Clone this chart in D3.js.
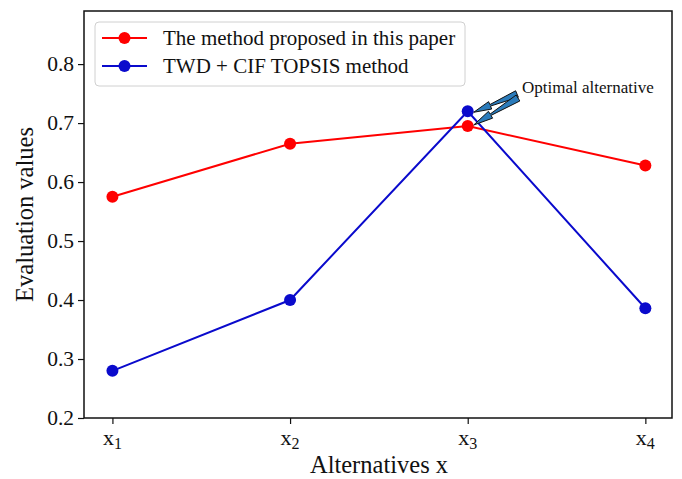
<!DOCTYPE html>
<meta charset="utf-8">
<html>
<head>
  <title>Evaluation values</title>
  <script src="https://d3js.org/d3.v7.min.js"></script>
</head>
<style>
  body { margin: 0; background: #fff; }
  svg { display: block; }
  svg text { font-family: 'Liberation Serif', 'Times New Roman', serif; }
</style>
<body>
<script>
  // data
  var alternatives = [1, 2, 3, 4];
  var tickNames = ["1", "2", "3", "4"];
  var proposed = [0.575, 0.665, 0.695, 0.628];
  var topsis = [0.280, 0.400, 0.720, 0.386];
  var yTicks = [0.2, 0.3, 0.4, 0.5, 0.6, 0.7, 0.8];
  var seriesNames = ["The method proposed in this paper", "TWD + CIF TOPSIS method"];

  var W = 682, H = 479;
  var pLeft = 84, pRight = 672, pTop = 11, pBottom = 418;
  var serif = "'Liberation Serif', 'Times New Roman', serif";

  var svg = d3.select("body").append("svg")
      .attr("width", W)
      .attr("height", H);

  var x = d3.scaleLinear().domain([0.84, 4.15]).range([pLeft, pRight]);
  var y = d3.scaleLinear().domain([0.2, 0.89]).range([pBottom, pTop]);

  //axes
  var yAxis = svg.append("g")
      .attr("transform", "translate(" + pLeft + ",0)")
      .call(d3.axisLeft(y).tickValues(yTicks).tickSize(6).tickPadding(4).tickFormat(d3.format(".1f")));
  yAxis.attr("font-size", 21.5).attr("font-family", serif);
  yAxis.select(".domain").remove();
  yAxis.selectAll("line").attr("stroke", "#111").attr("stroke-width", 1.2);
  yAxis.selectAll("text").attr("fill", "#111").attr("font-family", serif);

  var xAxis = svg.append("g")
      .attr("transform", "translate(0," + pBottom + ")")
      .call(d3.axisBottom(x).tickValues(alternatives).tickSize(6).tickFormat(""));
  xAxis.select(".domain").remove();
  xAxis.selectAll("line").attr("stroke", "#111").attr("stroke-width", 1.2);

  svg.selectAll(".xlab")
    .data(alternatives)
    .enter()
      .append("text")
      .attr("class", "xlab")
      .attr("x", function (d) { return x(d); })
      .attr("y", 445)
      .attr("text-anchor", "middle")
      .attr("font-size", 22)
      .attr("fill", "#111")
      .each(function (d, i) {
        var t = d3.select(this);
        t.append("tspan").text("x");
        t.append("tspan").attr("font-size", 16).attr("dy", 4).text(tickNames[i]);
      });

  //frame
  svg.append("rect")
      .attr("x", pLeft).attr("y", pTop)
      .attr("width", pRight - pLeft).attr("height", pBottom - pTop)
      .attr("fill", "none").attr("stroke", "#111").attr("stroke-width", 1.5);

  //axis titles
  svg.append("text")
      .attr("x", 379).attr("y", 473)
      .attr("text-anchor", "middle").attr("font-size", 24.5).attr("fill", "#111")
      .text("Alternatives x");

  svg.append("text")
      .attr("transform", "translate(33," + (pTop + pBottom) / 2 + ") rotate(-90)")
      .attr("text-anchor", "middle").attr("font-size", 24.5).attr("fill", "#111")
      .text("Evaluation values");

  //series
  var series = [
    { name: seriesNames[0], values: proposed, color: "#ff0000" },
    { name: seriesNames[1], values: topsis, color: "#0a0acc" }
  ];

  var line = d3.line()
      .x(function (d, i) { return x(alternatives[i]); })
      .y(function (d) { return y(d); });

  series.forEach(function (s) {
    svg.append("path")
        .attr("d", line(s.values))
        .attr("fill", "none")
        .attr("stroke", s.color)
        .attr("stroke-width", 2);
    svg.selectAll(null)
        .data(s.values)
        .enter()
          .append("circle")
          .attr("cx", function (d, i) { return x(alternatives[i]); })
          .attr("cy", function (d) { return y(d); })
          .attr("r", 6)
          .attr("fill", s.color);
  });

  //legend
  var lg = svg.append("g");
  lg.append("rect")
      .attr("x", 95).attr("y", 22).attr("width", 370).attr("height", 64)
      .attr("rx", 4).attr("fill", "#fff").attr("stroke", "#d0d0d0");
  series.forEach(function (s, i) {
    var ly = 38 + i * 28;
    lg.append("line")
        .attr("x1", 102).attr("x2", 147).attr("y1", ly).attr("y2", ly)
        .attr("stroke", s.color).attr("stroke-width", 2);
    lg.append("circle").attr("cx", 124.5).attr("cy", ly).attr("r", 6).attr("fill", s.color);
    lg.append("text")
        .attr("x", 163).attr("y", ly + 7)
        .attr("font-size", 21).attr("fill", "#111")
        .text(s.name);
  });

  //annotation
  svg.append("text")
      .attr("x", 522).attr("y", 93)
      .attr("font-size", 17).attr("fill", "#111")
      .text("Optimal alternative");

  function fancyArrow(tx, ty, hx, hy) {
    var dx = hx - tx, dy = hy - ty;
    var len = Math.sqrt(dx * dx + dy * dy);
    var ux = dx / len, uy = dy / len;
    var nx = -uy, ny = ux;
    var ax = tx + ux * len * 0.62, ay = ty + uy * len * 0.62;
    var pts = [
      [tx + nx * 3.5, ty + ny * 3.5],
      [ax + nx * 0.8, ay + ny * 0.8],
      [ax + nx * 4, ay + ny * 4],
      [hx, hy],
      [ax - nx * 4, ay - ny * 4],
      [ax - nx * 0.8, ay - ny * 0.8],
      [tx - nx * 3.5, ty - ny * 3.5]
    ];
    svg.append("path")
        .attr("d", d3.line()(pts) + "Z")
        .attr("fill", "#2b7bba")
        .attr("stroke", "#111")
        .attr("stroke-width", 1)
        .attr("stroke-linejoin", "miter");
  }
  fancyArrow(517, 94, x(3) + 6, y(topsis[2]) + 1);
  fancyArrow(518, 98, x(3) + 6, y(proposed[2]) - 1);
</script>
</body>
</html>
